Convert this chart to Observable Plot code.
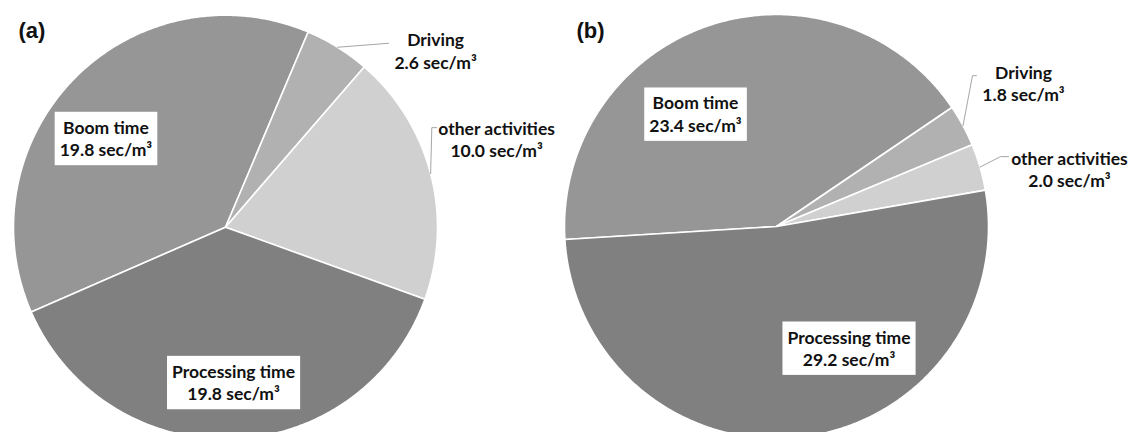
<!DOCTYPE html>
<html>
<head>
<meta charset="utf-8">
<script src="https://cdn.jsdelivr.net/npm/d3@7"></script>
<script src="https://cdn.jsdelivr.net/npm/@observablehq/plot@0.6"></script>
<style>
  html, body { margin: 0; padding: 0; background: #fff; }
  #wrap { display: flex; width: 1131px; height: 432px; overflow: hidden; }
</style>
</head>
<body>
<div id="wrap"></div>
<script>
// ---- data ----
const panels = ["(a)", "(b)"];
const categories = ["Boom time", "Driving", "other activities", "Processing time"];
const valuesA = [19.8, 2.6, 10.0, 19.8];
const valuesB = [23.4, 1.8, 2.0, 29.2];
const unit = "sec/m³";
const grays = ["#969696", "#b1b1b1", "#d0d0d0", "#808080"];

// ---- layout (pixels) ----
const H = 432, R = 212;
const panelGeom = [
  {width: 560, cx: 225, cy: 226.7, startDeg: -113.6, titleDx: 18},
  {width: 571, cx: 216, cy: 226, startDeg: -93.5, titleDx: 16}
];
const labelPlacement = [
  {
    "Boom time": {r: 0.65, dx: -21.6, dy: 7.5, boxed: true},
    "Driving": {r: 1, dx: 98, dy: 3, leader: [[-47, -7]]},
    "other activities": {r: 1, dx: 66, dy: -35, leader: [[-64.8, -11], [-60, -11]]},
    "Processing time": {r: 0.73, dx: 3, dy: 0, boxed: true}
  },
  {
    "Boom time": {r: 0.6, dx: -40, dy: 7.4, boxed: true},
    "Driving": {r: 1, dx: 60.5, dy: -43, leader: [[-51, -7], [-47, -7]]},
    "other activities": {r: 1, dx: 89.5, dy: 2, leader: [[-69, -12.5], [-61, -12.5]]},
    "Processing time": {r: 0.6, dx: 57.7, dy: -5.3, boxed: true}
  }
];

const labelFont = "Lato, 'Open Sans', sans-serif";

function buildPanel(pi, values) {
  const g = panelGeom[pi];
  const a0 = g.startDeg * Math.PI / 180;
  const arcs = d3.pie().sort(null).startAngle(a0).endAngle(a0 + 2 * Math.PI)(values);
  const sliceRows = [], leaderRows = [], labelRows = [];
  arcs.forEach((arc, i) => {
    const cat = categories[i];
    const span = arc.endAngle - arc.startAngle;
    const n = Math.max(2, Math.ceil(span / (Math.PI / 360)));
    sliceRows.push({category: cat, x: 0, y: 0});
    for (let k = 0; k <= n; k++) {
      const a = arc.startAngle + span * k / n;
      sliceRows.push({category: cat, x: Math.sin(a), y: Math.cos(a)});
    }
    sliceRows.push({category: cat, x: 0, y: 0});

    const mid = (arc.startAngle + arc.endAngle) / 2;
    const p = labelPlacement[pi][cat];
    const ax = p.r * Math.sin(mid) + p.dx / R;
    const ay = p.r * Math.cos(mid) - p.dy / R;
    labelRows.push({
      category: cat, x: ax, y: ay, boxed: !!p.boxed,
      text: `${cat}\n${values[i].toFixed(1)} ${unit}`
    });
    if (p.leader) {
      leaderRows.push({category: cat, x: Math.sin(mid), y: Math.cos(mid)});
      for (const [ox, oy] of p.leader) leaderRows.push({category: cat, x: ax + ox / R, y: ay - oy / R});
    }
  });

  const textOpts = {
    x: "x", y: "y", text: "text",
    fontSize: 17.5, fontWeight: "bold", fontFamily: labelFont,
    lineHeight: 1.28, lineAnchor: "middle", textAnchor: "middle", fill: "#111"
  };

  return Plot.plot({
    width: g.width, height: H,
    margin: 0,
    style: {background: "white", overflow: "visible"},
    x: {domain: [-g.cx / R, (g.width - g.cx) / R], axis: null},
    y: {domain: [-(H - g.cy) / R, g.cy / R], axis: null},
    color: {domain: categories, range: grays},
    marks: [
      Plot.line(sliceRows, {
        x: "x", y: "y", z: "category", fill: "category",
        stroke: "white", strokeWidth: 1.6, strokeLinejoin: "round", curve: "linear"
      }),
      Plot.line(leaderRows, {x: "x", y: "y", z: "category", stroke: "#a6a6a6", strokeWidth: 1, curve: "linear"}),
      Plot.text(labelRows.filter(d => d.boxed), {...textOpts, ariaLabel: () => "boxed"}),
      Plot.text(labelRows.filter(d => !d.boxed), {...textOpts, ariaLabel: () => "callout"}),
      Plot.text([panels[pi]], {
        frameAnchor: "top-left", text: d => d, dx: g.titleDx, dy: 22,
        fontSize: 22, fontWeight: "bold", fontFamily: "'Liberation Sans', Arial, sans-serif", fill: "#111"
      })
    ]
  });
}

const wrap = document.getElementById("wrap");
const charts = [buildPanel(0, valuesA), buildPanel(1, valuesB)];
charts.forEach(c => wrap.appendChild(c));

// white boxes behind the in-slice labels
function addBoxes() {
  const ns = "http://www.w3.org/2000/svg";
  for (const c of charts) {
    for (const t of c.querySelectorAll('text[aria-label="boxed"]')) {
      const b = t.getBBox();
      const padX = 5, padY = 5;
      const rect = document.createElementNS(ns, "rect");
      rect.setAttribute("x", b.x - padX);
      rect.setAttribute("y", b.y - padY);
      rect.setAttribute("width", b.width + 2 * padX);
      rect.setAttribute("height", b.height + 2 * padY);
      rect.setAttribute("fill", "white");
      const tr = t.getAttribute("transform");
      if (tr) rect.setAttribute("transform", tr);
      t.parentNode.insertBefore(rect, t);
    }
  }
}
addBoxes();
</script>
</body>
</html>
